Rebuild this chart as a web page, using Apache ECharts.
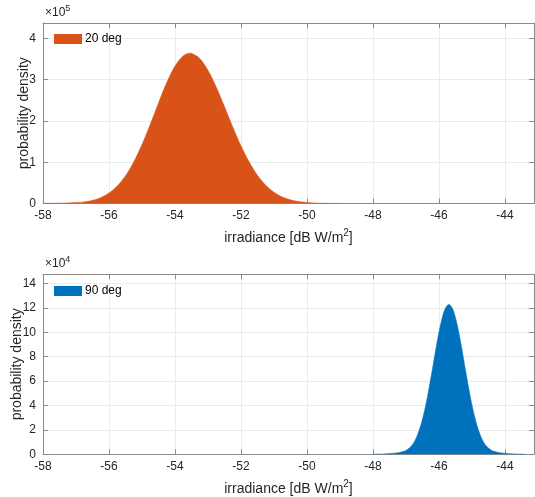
<!DOCTYPE html>
<html>
<head>
<meta charset="utf-8">
<script src="https://cdn.jsdelivr.net/npm/echarts@6/dist/echarts.min.js"></script>
<style>
html,body{margin:0;padding:0;background:#fff;}
#chart{width:535px;height:497px;}
</style>
</head>
<body>
<div id="chart"></div>
<script>
// ---- data ----
const seriesNames = ['20 deg', '90 deg'];
const colors = ['#D95319', '#0072BD'];
const yExponents = ['5', '4'];
const xLabel = 'irradiance [dB W/m{sup|2}]';
const yLabel = 'probability density';

// 20 deg: x in dB W/m^2, density in units of 1e5
const topX = [-58, -57.75, -57.5, -57.25, -57, -56.75, -56.5, -56.25, -56, -55.75, -55.5, -55.25, -55, -54.75, -54.5, -54.25, -54, -53.75, -53.55, -53.5, -53.25, -53, -52.75, -52.5, -52.25, -52, -51.75, -51.5, -51.25, -51, -50.75, -50.5, -50.25, -50, -49.75, -49.5, -49.25, -49];
const topY = [0.004, 0.006, 0.009, 0.013, 0.022, 0.038, 0.076, 0.142, 0.252, 0.422, 0.670, 1.006, 1.428, 1.918, 2.436, 2.927, 3.326, 3.576, 3.640, 3.636, 3.512, 3.226, 2.821, 2.346, 1.855, 1.397, 1.002, 0.682, 0.442, 0.273, 0.160, 0.089, 0.047, 0.024, 0.011, 0.005, 0.002, 0.001];

// 90 deg: density in units of 1e4
const botX = [-48, -47.8, -47.6, -47.4, -47.2, -47.1, -47, -46.9, -46.8, -46.7, -46.6, -46.5, -46.4, -46.3, -46.2, -46.1, -46, -45.9, -45.8, -45.7, -45.6, -45.5, -45.4, -45.3, -45.2, -45.1, -45, -44.9, -44.8, -44.7, -44.6, -44.5, -44.4, -44.3, -44.2, -44, -43.8, -43.6, -43.4];
const botY = [0.01, 0.02, 0.04, 0.08, 0.15, 0.22, 0.32, 0.51, 0.80, 1.278, 1.965, 2.885, 4.05, 5.44, 6.97, 8.55, 10.02, 11.22, 12.01, 12.28, 12.01, 11.22, 10.02, 8.55, 6.97, 5.44, 4.05, 2.885, 1.965, 1.278, 0.80, 0.51, 0.32, 0.22, 0.15, 0.08, 0.04, 0.02, 0.01];

const xMin = -58, xMax = -43.12, xStep = 2;
const yMaxTop = 4.37, yStepTop = 1;
const yMaxBot = 14.75, yStepBot = 2;

// ---- styling ----
const FONT = 'Liberation Sans, Arial, sans-serif';
const TXT = '#262626';
const AX = '#8a8a8a';
const GRIDC = '#ebebeb';

function xAxisPair(gi) {
  return [
    {
      type: 'value', gridIndex: gi, min: xMin, max: xMax, interval: xStep, position: 'bottom',
      axisLine: {show: true, onZero: false, lineStyle: {color: AX, width: 1}},
      axisTick: {show: true, inside: true, length: 5, lineStyle: {color: AX}},
      axisLabel: {color: TXT, fontFamily: FONT, fontSize: 12, margin: 6, showMaxLabel: false},
      splitLine: {show: true, lineStyle: {color: GRIDC, width: 1}},
      name: xLabel, nameLocation: 'middle', nameGap: 25, nameMoveOverlap: false,
      nameTextStyle: {color: TXT, fontFamily: FONT, fontSize: 14,
        rich: {sup: {fontSize: 10, verticalAlign: 'top', padding: [0, 0, 9, 0], color: TXT, fontFamily: FONT}}}
    },
    {
      type: 'value', gridIndex: gi, min: xMin, max: xMax, interval: xStep, position: 'top',
      axisLine: {show: true, onZero: false, lineStyle: {color: AX, width: 1}},
      axisTick: {show: true, inside: true, length: 5, lineStyle: {color: AX}},
      axisLabel: {show: false}, splitLine: {show: false}
    }
  ];
}
function yAxisPair(gi, max, step, gap) {
  return [
    {
      type: 'value', gridIndex: gi, min: 0, max: max, interval: step, position: 'left',
      axisLine: {show: true, onZero: false, lineStyle: {color: AX, width: 1}},
      axisTick: {show: true, inside: true, length: 5, lineStyle: {color: AX}},
      axisLabel: {color: TXT, fontFamily: FONT, fontSize: 12, margin: 7, showMaxLabel: false},
      splitLine: {show: true, lineStyle: {color: GRIDC, width: 1}},
      name: yLabel, nameLocation: 'middle', nameGap: gap, nameMoveOverlap: false,
      nameTextStyle: {color: TXT, fontFamily: FONT, fontSize: 14}
    },
    {
      type: 'value', gridIndex: gi, min: 0, max: max, interval: step, position: 'right',
      axisLine: {show: true, onZero: false, lineStyle: {color: AX, width: 1}},
      axisTick: {show: true, inside: true, length: 5, lineStyle: {color: AX}},
      axisLabel: {show: false}, splitLine: {show: false}
    }
  ];
}
function pairs(xs, ys) { return xs.map((x, i) => [x, ys[i]]); }

const chart = echarts.init(document.getElementById('chart'), null, {renderer: 'canvas'});
const option = {
  animation: false,
  backgroundColor: '#fff',
  grid: [
    {left: 43, right: 1, top: 23, height: 180.5, containLabel: false, outerBoundsMode: 'none'},
    {left: 43, right: 1, top: 274.3, height: 180, containLabel: false, outerBoundsMode: 'none'}
  ],
  xAxis: [...xAxisPair(0), ...xAxisPair(1)],
  yAxis: [...yAxisPair(0, yMaxTop, yStepTop, 12), ...yAxisPair(1, yMaxBot, yStepBot, 19)],
  legend: [
    {data: [seriesNames[0]], left: 54, top: 33, itemWidth: 28, itemHeight: 10, itemGap: 0,
     icon: 'rect', padding: 0, textStyle: {color: '#000', fontFamily: FONT, fontSize: 12, padding: [0, 0, 0, -2]}},
    {data: [seriesNames[1]], left: 54, top: 285, itemWidth: 28, itemHeight: 10, itemGap: 0,
     icon: 'rect', padding: 0, textStyle: {color: '#000', fontFamily: FONT, fontSize: 12, padding: [0, 0, 0, -2]}}
  ],
  graphic: [
    {type: 'text', left: 45, top: 4, style: {rich: {a: {fontSize: 12, fontFamily: FONT, fill: TXT}, s: {fontSize: 9, fontFamily: FONT, fill: TXT, verticalAlign: 'top', padding: [0, 0, 8, 0]}}, text: '{a|×10}{s|' + yExponents[0] + '}'}},
    {type: 'text', left: 45, top: 255, style: {rich: {a: {fontSize: 12, fontFamily: FONT, fill: TXT}, s: {fontSize: 9, fontFamily: FONT, fill: TXT, verticalAlign: 'top', padding: [0, 0, 8, 0]}}, text: '{a|×10}{s|' + yExponents[1] + '}'}}
  ],
  series: [
    {name: seriesNames[0], type: 'line', xAxisIndex: 0, yAxisIndex: 0, data: pairs(topX, topY),
     smooth: 0.3, showSymbol: false, color: colors[0],
     lineStyle: {width: 0.5, color: colors[0]}, areaStyle: {color: colors[0], opacity: 1}},
    {name: seriesNames[1], type: 'line', xAxisIndex: 2, yAxisIndex: 2, data: pairs(botX, botY),
     smooth: 0.3, showSymbol: false, color: colors[1],
     lineStyle: {width: 0.5, color: colors[1]}, areaStyle: {color: colors[1], opacity: 1}}
  ]
};
chart.setOption(option);
</script>
</body>
</html>
